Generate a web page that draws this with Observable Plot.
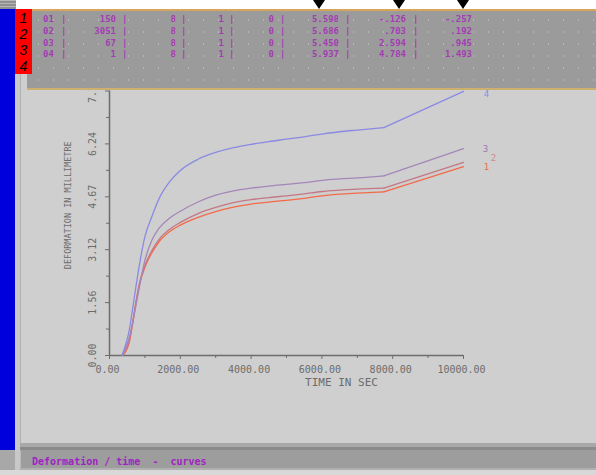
<!DOCTYPE html>
<html><head><meta charset="utf-8">
<script src="https://cdn.jsdelivr.net/npm/d3@7"></script>
<script src="https://cdn.jsdelivr.net/npm/@observablehq/plot@0.6"></script>
<style>
body{margin:0;width:596px;height:475px;position:relative;overflow:hidden;background:#fff;font-family:"DejaVu Sans Mono",monospace}
.a{position:absolute}
.ht{position:absolute;font:bold 9px "DejaVu Sans Mono",monospace;color:#a43cb4;line-height:10px;white-space:pre;z-index:5}
.sn{position:absolute;left:15px;width:17px;height:16px;font:italic 14px 'Liberation Sans',sans-serif;color:#000;line-height:16px;text-align:center;z-index:6}
</style></head><body>
<script>
// ---- data ----
const times   = [350, 450, 550, 650, 750, 850, 1000, 1200, 1400, 1700, 2000, 2500, 3000, 3500, 4000, 4500, 5000, 5500, 6000, 6500, 7000, 7750, 10000];
const series1 = [0, 0.10, 0.35, 0.90, 1.55, 2.10, 2.60, 3.03, 3.35, 3.65, 3.84, 4.07, 4.24, 4.37, 4.46, 4.52, 4.57, 4.63, 4.70, 4.75, 4.78, 4.82, 5.56];
const series2 = [0, 0.15, 0.40, 0.95, 1.60, 2.15, 2.65, 3.10, 3.42, 3.72, 3.92, 4.18, 4.36, 4.50, 4.59, 4.65, 4.70, 4.76, 4.83, 4.87, 4.90, 4.93, 5.69];
const series3 = [0, 0.20, 0.50, 0.95, 1.50, 2.05, 2.80, 3.40, 3.75, 4.05, 4.25, 4.52, 4.72, 4.85, 4.93, 4.99, 5.04, 5.09, 5.16, 5.20, 5.23, 5.29, 6.09];
const series4 = [0, 0.30, 0.70, 1.35, 2.05, 2.70, 3.50, 4.10, 4.62, 5.12, 5.45, 5.78, 5.98, 6.12, 6.22, 6.30, 6.37, 6.44, 6.52, 6.59, 6.64, 6.71, 7.78];
const seriesNames = ["1", "2", "3", "4"];
const kinkTime = 7750;
const xDomain = [0, 10000];
const yDomain = [0, 7.79];
const xTickValues = [0, 2000, 4000, 6000, 8000, 10000];
const xTickLabels = ["0.00", "2000.00", "4000.00", "6000.00", "8000.00", "10000.00"];
const xMinorTicks = [1000, 3000, 5000, 7000, 9000];
const yTickValues = [0, 1.558, 3.116, 4.674, 6.232, 7.79];
const yTickLabels = ["0.00", "1.56", "3.12", "4.67", "6.24", "7.79"];
const yMinorTicks = [0.779, 2.337, 3.895, 5.453, 7.011];
const xTitle = "TIME IN SEC";
const yTitle = "DEFORMATION IN MILLIMETRE";
// header table
const rowIds = ["01", "02", "03", "04"];
const colA = ["150", "3051", "67", "1"];
const colB = ["8", "8", "8", "8"];
const colC = ["1", "1", "1", "1"];
const colD = ["0", "0", "0", "0"];
const colE = ["5.598", "5.686", "5.450", "5.937"];
const colF = ["-.126", ".703", "2.594", "4.784"];
const colG = ["-.257", ".192", ".945", "1.493"];
const sideNumbers = ["1", "2", "3", "4"];
const statusText = "Deformation / time  -  curves";

// ---- styles ----
const colors = ["#f26a48", "#c47886", "#a486b8", "#8a8ae4"];
const labelColors = ["#f06a48", "#d08a8c", "#9a78b8", "#8a8ae4"];
const axisColor = "#6c6c6c";

function box(x, y, w, h, style, z) {
  const d = document.createElement("div");
  d.className = "a";
  d.style.cssText = `left:${x}px;top:${y}px;width:${w}px;height:${h}px;${style};z-index:${z||0}`;
  document.body.appendChild(d);
  return d;
}

// chrome
box(0, 0, 16, 9, "background:repeating-linear-gradient(#b8b8b8 0 1px,#909090 1px 3px)", 1);
box(0, 9, 15, 441, "background:#0000dc", 1);
box(0, 450, 15, 25, "background:#a8a8a8", 1);
box(15, 9, 5, 461, "background:#c8c8c8;border-right:1px solid #b0b0b0", 1);
box(21, 9, 575, 436, "background:#cfcfcf", 0);

// chart
const data = [];
[series1, series2, series3, series4].forEach((vals, i) =>
  times.forEach((t, j) => data.push({t, v: vals[j], s: seriesNames[i]})));
const ends = [series1, series2, series3, series4].map((vals, i) => ({t: times[times.length - 1], v: vals[vals.length - 1], s: seriesNames[i]}));
const labelOffsets = [[23, 0], [30, -4], [22, 0], [23, 3]];

const chart = Plot.plot({
  width: 576, height: 436,
  marginLeft: 89, marginRight: 133, marginTop: 81.5, marginBottom: 90,
  style: {background: "transparent", fontFamily: "DejaVu Sans Mono", fontSize: "10px", overflow: "visible"},
  x: {domain: xDomain, label: null},
  y: {domain: yDomain, label: null},
  color: {domain: seriesNames, range: colors},
  marks: [
    Plot.axisX(xTickValues, {tickSize: 4, tickFormat: () => "", label: null, stroke: axisColor}),
    Plot.axisX(xMinorTicks, {tickSize: 3, tickFormat: () => "", label: null, stroke: axisColor}),
    Plot.axisY(yTickValues, {tickSize: 4, tickFormat: () => "", label: null, stroke: axisColor}),
    Plot.axisY(yMinorTicks, {tickSize: 3, tickFormat: () => "", label: null, stroke: axisColor}),
    Plot.ruleX([xDomain[0]], {y1: yDomain[0], y2: yDomain[1], stroke: axisColor, strokeWidth: 1.5}),
    Plot.ruleY([yDomain[0]], {x1: xDomain[0], x2: xDomain[1], stroke: axisColor, strokeWidth: 1.5}),
    Plot.text(xTickValues, {x: d => d, frameAnchor: "bottom", lineAnchor: "middle", textAnchor: "middle", dy: 14, dx: -2, text: (d, i) => xTickLabels[i], fill: axisColor}),
    Plot.text(yTickValues, {y: d => d, frameAnchor: "left", lineAnchor: "middle", textAnchor: "middle", dx: -17, rotate: -90, text: (d, i) => yTickLabels[i], fill: axisColor}),
    Plot.text([xTitle], {frameAnchor: "bottom", lineAnchor: "middle", textAnchor: "middle", dx: 55, dy: 27, text: d => d, fill: axisColor, fontSize: 11}),
    Plot.text([yTitle], {frameAnchor: "left", lineAnchor: "middle", textAnchor: "middle", dx: -41, dy: -18, rotate: -90, text: d => d, fill: axisColor, fontSize: 8.5}),
    // smooth loading part, then straight final segment
    Plot.line(data.filter(d => d.t <= kinkTime), {x: "t", y: "v", z: "s", stroke: "s", strokeWidth: 1.3, curve: "monotone-x"}),
    Plot.line(data.filter(d => d.t >= kinkTime), {x: "t", y: "v", z: "s", stroke: "s", strokeWidth: 1.3, curve: "linear"}),
    ...ends.map((e, i) => Plot.text([e], {x: "t", y: "v", text: "s", fill: labelColors[i], dx: labelOffsets[i][0], dy: labelOffsets[i][1], fontSize: 9}))
  ]
});
const holder = box(20, 9, 576, 436, "", 2);
holder.appendChild(chart);

// header panel
box(27, 9, 569, 81, "box-sizing:border-box;background-color:#9b9b9b;border-top:2px solid #d6a45a;border-bottom:2px solid #cdb070;background-image:radial-gradient(circle,#b6b6b6 0.7px,transparent 1px);background-size:15px 12px;background-position:4px 3px", 4);
box(15, 9, 17, 65, "background:#ff0000", 5);
sideNumbers.forEach((n, i) => {
  const s = document.createElement("div");
  s.className = "sn";
  s.style.top = (10 + i * 16) + "px";
  s.textContent = n;
  document.body.appendChild(s);
});

const rowCenters = [19, 31, 43, 54];
const cols = [
  {vals: rowIds, left: 43, pipe: 63},
  {vals: colA, right: 116, pipe: 124},
  {vals: colB, right: 176, pipe: 183},
  {vals: colC, right: 224, pipe: 231},
  {vals: colD, right: 274, pipe: 282},
  {vals: colE, right: 339, pipe: 347},
  {vals: colF, right: 406, pipe: 415},
  {vals: colG, right: 472}
];
rowCenters.forEach((cy, r) => {
  cols.forEach(c => {
    const s = document.createElement("div");
    s.className = "ht";
    s.textContent = c.vals[r];
    if (c.left != null) s.style.cssText = `left:${c.left}px;top:${cy - 5}px`;
    else s.style.cssText = `left:${c.right - 60}px;width:60px;text-align:right;top:${cy - 5}px`;
    document.body.appendChild(s);
    if (c.pipe != null) {
      const p = document.createElement("div");
      p.className = "ht";
      p.textContent = "|";
      p.style.cssText = `left:${c.pipe - 2}px;top:${cy - 5}px`;
      document.body.appendChild(p);
    }
  });
});

// triangles
[319, 399, 463].forEach(cx => box(cx - 6, 0, 0, 0, "border-left:6px solid transparent;border-right:6px solid transparent;border-top:9px solid #000", 6));

// status bar
box(20, 443, 576, 4, "background:#a8a8a8", 4);
box(20, 447, 576, 3, "background:#8a8a8a", 4);
box(20, 450, 576, 18, "background:#9d9d9d;border-left:1px solid #b8b8b8;box-sizing:border-box", 4);
box(20, 468, 576, 2, "background:#b0b0b0", 4);
box(0, 470, 596, 5, "background:#d8d8d8", 4);
const st = box(32, 456, 300, 12, "font:bold 10px 'DejaVu Sans Mono',monospace;color:#a024c0;line-height:12px;white-space:pre", 5);
st.textContent = statusText;
</script>
</body></html>
